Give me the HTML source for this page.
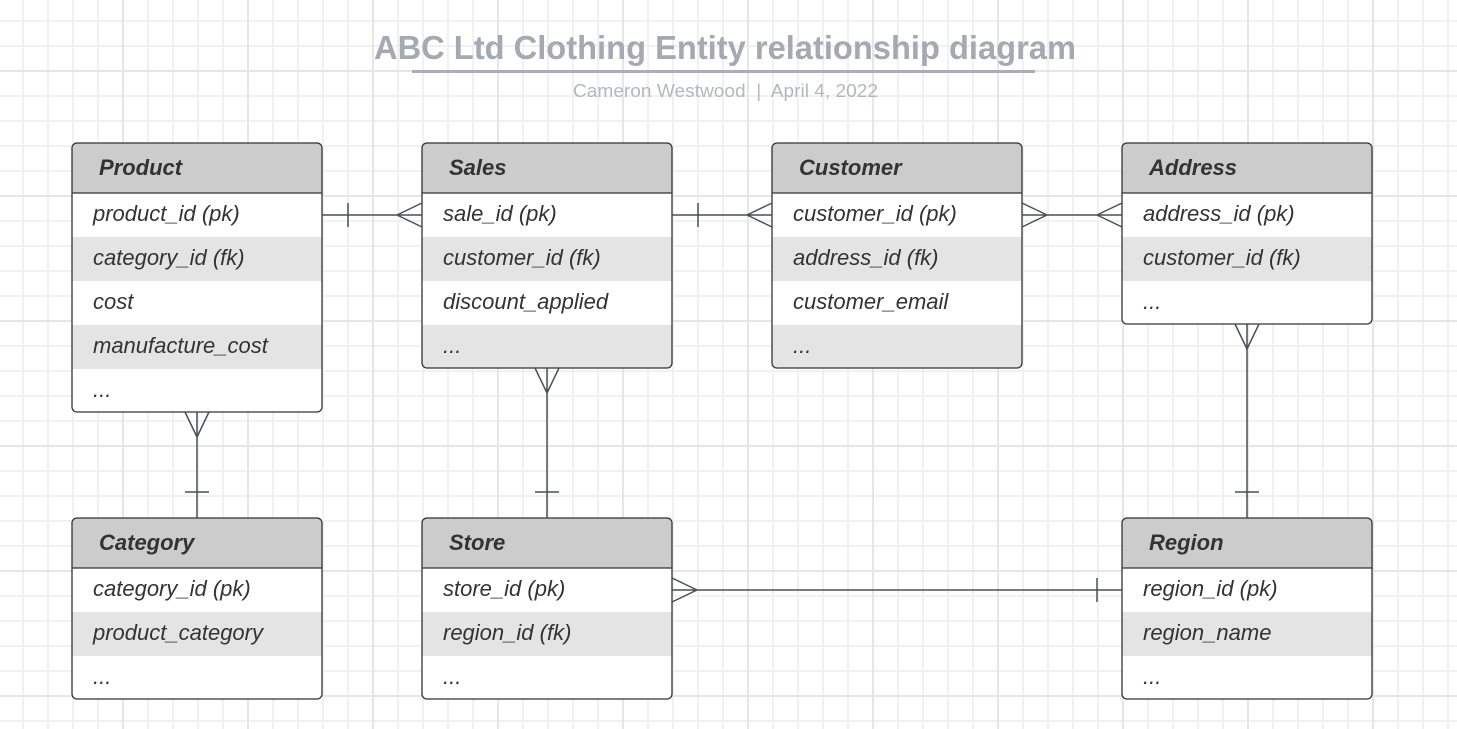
<!DOCTYPE html>
<html><head><meta charset="utf-8"><style>
html,body{margin:0;padding:0;background:#fff}
body{width:1457px;height:729px;overflow:hidden;
background-image:
linear-gradient(to right,#e6e6e6 0,#e6e6e6 2px,transparent 2px),
linear-gradient(to bottom,#e6e6e6 0,#e6e6e6 2px,transparent 2px),
linear-gradient(to right,#f1f1f1 0,#f1f1f1 2px,transparent 2px),
linear-gradient(to bottom,#f1f1f1 0,#f1f1f1 2px,transparent 2px);
background-size:125px 125px,125px 125px,25px 25px,25px 25px;
background-position:122px 0,0 70px,22px 0,0 20px;}
svg{position:absolute;left:0;top:0}
text{font-family:"Liberation Sans",sans-serif}
.h{font-weight:bold;font-style:italic;font-size:22px;fill:#333}
.r{font-style:italic;font-size:22px;fill:#333}
</style></head><body>
<svg width="1457" height="729" viewBox="0 0 1457 729">
<text x="374" y="59" textLength="702" lengthAdjust="spacingAndGlyphs" font-weight="bold" font-size="33" fill="#a4a9b2">ABC Ltd Clothing Entity relationship diagram</text>
<rect x="412" y="70" width="623" height="3" fill="#a9aeb7"/>
<text x="573" y="97" textLength="305" lengthAdjust="spacingAndGlyphs" font-size="18" fill="#b3b7be">Cameron Westwood&#160; |&#160; April 4, 2022</text>

<g id="tables"></g>
<g stroke="#4a4f57" stroke-width="1.5" fill="none">
<path d="M322 215H422M348 203V227M397 215L422 203M397 215L422 227"/>
<path d="M672 215H772M698 203V227M747 215L772 203M747 215L772 227"/>
<path d="M1022 215H1122M1047 215L1022 203M1047 215L1022 227M1097 215L1122 203M1097 215L1122 227"/>
<path d="M197 412V518M197 437L185 412M197 437L209 412M185 492H209"/>
<path d="M547 368V518M547 393L535 368M547 393L559 368M535 492H559"/>
<path d="M1247 324V518M1247 349L1235 324M1247 349L1259 324M1235 492H1259"/>
<path d="M672 590H1122M697 590L672 578M697 590L672 602M1097 578V602"/>
</g>
</svg>
<script>
const T=[
[72,143,"Product",["product_id (pk)","category_id (fk)","cost","manufacture_cost","..."]],
[422,143,"Sales",["sale_id (pk)","customer_id (fk)","discount_applied","..."]],
[772,143,"Customer",["customer_id (pk)","address_id (fk)","customer_email","..."]],
[1122,143,"Address",["address_id (pk)","customer_id (fk)","..."]],
[72,518,"Category",["category_id (pk)","product_category","..."]],
[422,518,"Store",["store_id (pk)","region_id (fk)","..."]],
[1122,518,"Region",["region_id (pk)","region_name","..."]]];
let s="";
for(const [x,y,n,rows] of T){
 const h=50+rows.length*44-1;
 const id="c"+x+"_"+y;
 s+=`<clipPath id="${id}"><rect x="${x}" y="${y}" width="250" height="${h}" rx="5"/></clipPath><g clip-path="url(#${id})"><rect x="${x}" y="${y}" width="250" height="${h}" fill="#fff"/><rect x="${x}" y="${y}" width="250" height="50" fill="#cccccc"/>`;
 rows.forEach((r,i)=>{if(i%2==1)s+=`<rect x="${x}" y="${y+50+i*44}" width="250" height="44" fill="#e4e4e4"/>`;});
 s+=`</g><line x1="${x}" y1="${y+50}" x2="${x+250}" y2="${y+50}" stroke="#333" stroke-width="1.3"/><rect x="${x}" y="${y}" width="250" height="${h}" rx="5" fill="none" stroke="#333" stroke-width="1.3"/>`;
 s+=`<text class="h" x="${x+27}" y="${y+32}">${n}</text>`;
 rows.forEach((r,i)=>{s+=`<text class="r" x="${x+21}" y="${y+50+i*44+28}">${r}</text>`;});
}
document.getElementById("tables").innerHTML=s;
</script>
</body></html>
